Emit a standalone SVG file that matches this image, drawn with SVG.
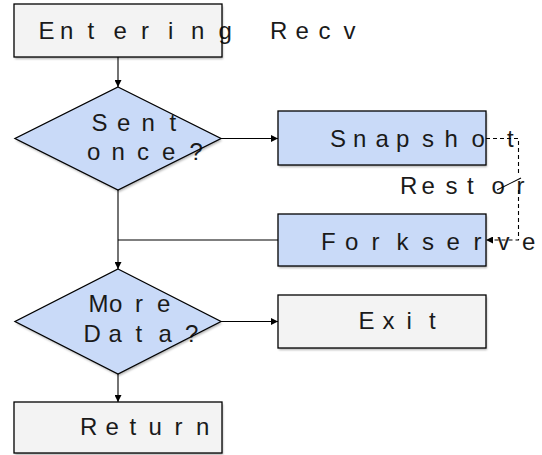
<svg xmlns="http://www.w3.org/2000/svg" width="542" height="455" viewBox="0 0 542 455">
  <style>
    .grey { fill: #f3f3f3; }
    .blue { fill: #c9daf8; }
    .edge { fill: none; stroke: #000; stroke-width: 1.3; }
    .lbl { font-family: "Liberation Sans", Arial, sans-serif; font-size: 24px; fill: #1a1a1a; }
    .wire { fill: none; stroke: #000; stroke-width: 1.1; }
    .dash { fill: none; stroke: #000; stroke-width: 1.1; stroke-dasharray: 4 3; }
  </style>
  <defs>
    <filter id="shadow" x="-10%" y="-10%" width="125%" height="130%">
      <feDropShadow dx="1" dy="2" stdDeviation="1.2" flood-color="#000" flood-opacity="0.3"/>
    </filter>
    <marker id="arrow" viewBox="0 0 10 10" refX="10" refY="5" markerWidth="7" markerHeight="7" markerUnits="userSpaceOnUse" orient="auto">
      <path d="M0,0 L10,5 L0,10 Z" fill="#000"/>
    </marker>
  </defs>

  <rect width="542" height="455" fill="#fff"/>

  <!-- start box -->
  <g id="entering-recv">
    <rect class="grey" x="14" y="4" width="208" height="53" filter="url(#shadow)"/>
    <text class="lbl" y="38.5" x="38.5 60 87.5 113.5 141 168 191 218.5 245 270 295.5 318.5 343.5">Entering Recv</text>
    <rect class="edge" x="14" y="4" width="208" height="53"/>
  </g>

  <!-- first decision -->
  <g id="sent-once">
    <polygon class="blue" points="118,87 221,138.5 118,190 15,138.5" filter="url(#shadow)"/>
    <text class="lbl" y="130.5" x="91.5 117 141.5 169.5">Sent</text>
    <text class="lbl" y="160" x="87 111.5 137 162 189.5">once?</text>
    <polygon class="edge" points="118,87 221,138.5 118,190 15,138.5"/>
  </g>

  <g id="snapshot">
    <rect class="blue" x="278" y="111" width="208" height="54" filter="url(#shadow)"/>
    <text class="lbl" y="146.5" x="330 353 375.5 396 422 444.5 471.5 507">Snapshot</text>
    <rect class="edge" x="278" y="111" width="208" height="54"/>
  </g>

  <g id="forkserver">
    <rect class="blue" x="278" y="214" width="208" height="52" filter="url(#shadow)"/>
    <text class="lbl" y="249.5" x="321 345 371.5 396.5 422 446.5 473.5 497.5 522 548">Forkserver</text>
    <rect class="edge" x="278" y="214" width="208" height="52"/>
  </g>

  <!-- second decision -->
  <g id="more-data">
    <polygon class="blue" points="118,269 221,321.5 118,374 15,321.5" filter="url(#shadow)"/>
    <text class="lbl" y="311.5" x="88.5 109 135 157">More</text>
    <text class="lbl" y="341.5" x="83.5 108.5 135.5 158.5 185">Data?</text>
    <polygon class="edge" points="118,269 221,321.5 118,374 15,321.5"/>
  </g>

  <g id="exit">
    <rect class="grey" x="278" y="295" width="208" height="53" filter="url(#shadow)"/>
    <text class="lbl" y="328.5" x="358.5 382.5 406.5 429">Exit</text>
    <rect class="edge" x="278" y="295" width="208" height="53"/>
  </g>

  <g id="return">
    <rect class="grey" x="14" y="402" width="208" height="51" filter="url(#shadow)"/>
    <text class="lbl" y="435" x="80 105.5 129.5 148.5 174.5 196">Return</text>
    <rect class="edge" x="14" y="402" width="208" height="51"/>
  </g>

  <g id="connectors">
    <line class="wire" x1="118" y1="57" x2="118" y2="87" marker-end="url(#arrow)"/>
    <line class="wire" x1="221" y1="138.5" x2="278" y2="138.5" marker-end="url(#arrow)"/>
    <line class="wire" x1="118" y1="190" x2="118" y2="269" marker-end="url(#arrow)"/>
    <line class="wire" x1="278" y1="240" x2="118" y2="240"/>
    <line class="wire" x1="221" y1="321.5" x2="278" y2="321.5" marker-end="url(#arrow)"/>
    <line class="wire" x1="118" y1="374" x2="118" y2="402" marker-end="url(#arrow)"/>
    <!-- restore path: snapshot back into forkserver -->
    <path class="dash" d="M486,138.5 H518.5 V240 H486" marker-end="url(#arrow)"/>
    <g id="restore-label">
      <rect x="398" y="175" width="144" height="14" fill="#fff"/>
      <text class="lbl" y="194" x="400 421.5 445.5 467 491.5 516.5 542">Restore</text>
      <line class="wire" x1="497" y1="190" x2="521" y2="178"/>
    </g>
  </g>
</svg>
